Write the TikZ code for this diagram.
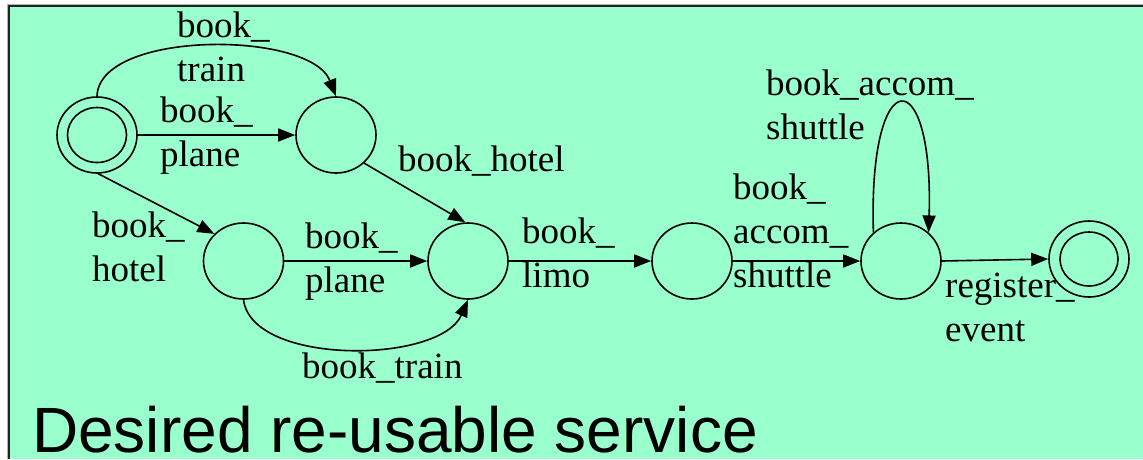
\documentclass[tikz,border=0pt]{standalone}
\usepackage{fontspec}
\setmainfont{Liberation Serif}
\setsansfont{Liberation Sans}
\usetikzlibrary{shapes.geometric,arrows.meta}
\definecolor{mint}{HTML}{99FFCC}
\definecolor{framegray}{HTML}{222222}
% multi-line label whose reference point is the first baseline
\newcommand{\lbltext}[1]{\begin{tabular}[t]{@{}l@{}}#1\end{tabular}}

\begin{document}
\begin{tikzpicture}[x=1pt,y=-1pt,
  state/.style={ellipse,draw,line width=1.6pt,minimum width=80pt,minimum height=76pt,inner sep=0pt},
  edge/.style={line width=1.6pt,-{Triangle[length=17pt,width=13pt]}},
  lbl/.style={anchor=base west,inner sep=0pt,font=\fontsize{37}{44}\selectfont}]
\useasboundingbox (0,0) rectangle (1143,459);
\fill[white] (0,0) rectangle (1143,459);
\fill[mint] (8,5) rectangle (1143,459);
\draw[line width=0.8pt,black!30] (7,459) -- (7,4) -- (1143,4);
\draw[line width=2pt,framegray] (8.8,459) -- (8.8,5.8) -- (1143,5.8);

% states
\node[state] (s) at (97,135) {};
\draw[line width=1.6pt] (s) ellipse (29.5 and 27.5);
\node[state] (a) at (336,135) {};
\node[state] (b) at (243.5,261) {};
\node[state] (c) at (468,261) {};
\node[state] (d) at (692,261) {};
\node[state] (e) at (901,261) {};
\node[state] (f) at (1089,259) {};
\draw[line width=1.6pt] (f) ellipse (29 and 27);

% transitions
\draw[edge] (s.north) .. controls (99,30) and (310,30) .. (a.north);
\draw[edge] (s.east) -- (a.west);
\draw[edge] (s.-88) -- (b.137);
\draw[edge] (a.-45) -- (c.94);
\draw[edge] (b.east) -- (c.west);
\draw[edge] (b.south) .. controls (252,366) and (440,364) .. (c.south);
\draw[edge] (c.east) -- (d.west);
\draw[edge] (d.east) -- (e.west);
\draw[edge] (e.134) .. controls (868,60) and (934,60) .. (e.46);
\draw[edge] (e.east) -- (f.west);

% transition labels
\node[lbl] (l1) at (177,37) {\lbltext{book\_\\train}};
\node[lbl] (l2) at (160,122) {\lbltext{book\_\\plane}};
\node[lbl] (l3) at (92,237) {\lbltext{book\_\\hotel}};
\node[lbl] (l4) at (398,171) {book\_hotel};
\node[lbl] (l5) at (305,248) {\lbltext{book\_\\plane}};
\node[lbl] (l6) at (302,378) {book\_train};
\node[lbl] (l7) at (522,243) {\lbltext{book\_\\limo}};
\node[lbl] (l8) at (733,199) {\lbltext{book\_\\accom\_\\shuttle}};
\node[lbl] (l9) at (766,95) {\lbltext{book\_accom\_\\shuttle}};
\node[lbl] (l10) at (945,297) {\lbltext{register\_\\event}};

% caption
\node[anchor=base west,inner sep=0pt,text depth=0pt,font=\sffamily\fontsize{64}{76}\selectfont] (title) at (32,452) {Desired re-usable service};
\end{tikzpicture}
\end{document}
